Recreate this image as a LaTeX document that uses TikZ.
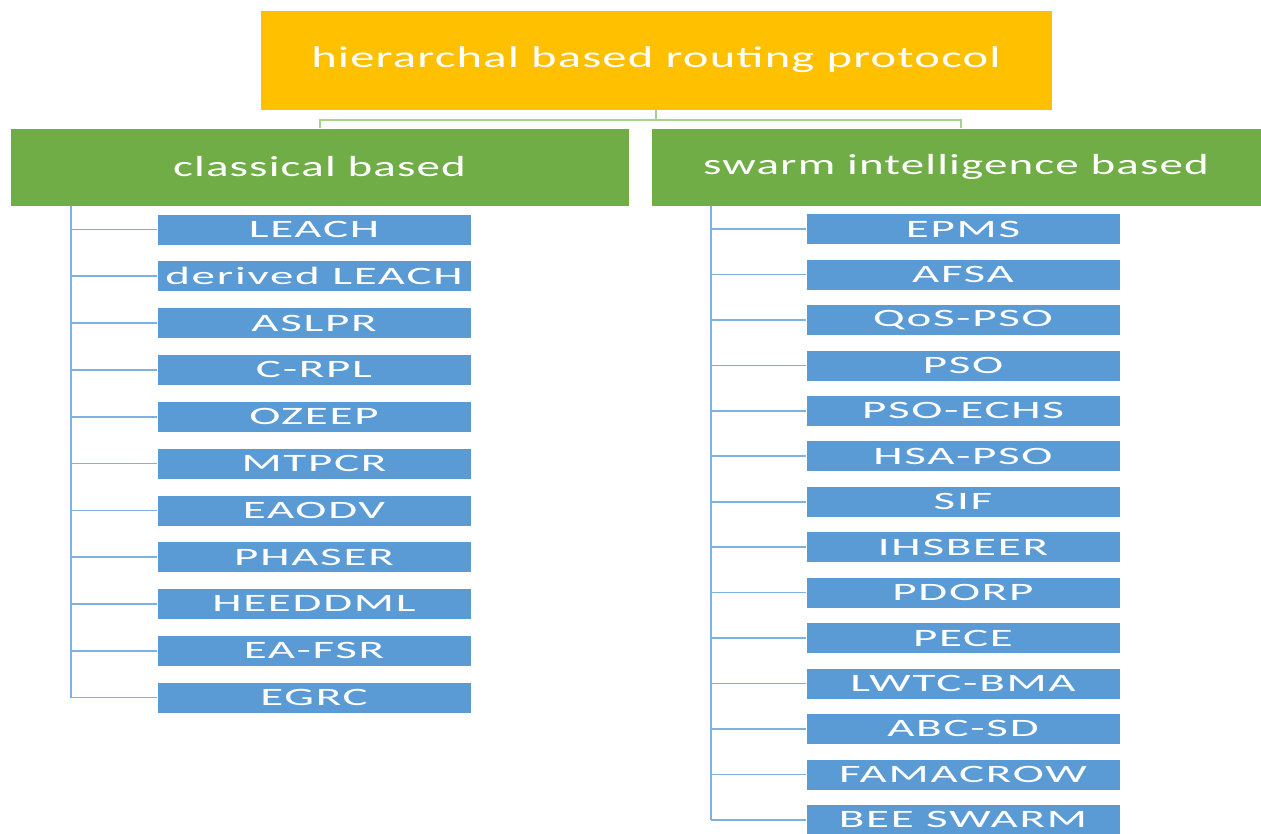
\documentclass[tikz,border=0pt]{standalone}
\usepackage{fontspec}
\setmainfont{Carlito}
\newfontfamily\headfont{Carlito}[FakeStretch=1.62,LetterSpace=4]
\newfontfamily\itemfont{Carlito}[FakeStretch=1.88,LetterSpace=7]
\definecolor{rootfill}{HTML}{FFC000}
\definecolor{catfill}{HTML}{70AD47}
\definecolor{itemfill}{HTML}{5B9BD5}
\definecolor{treeline}{HTML}{A9D18E}
\definecolor{itemline}{HTML}{7EB1E1}
\tikzset{
  rootbox/.style={fill=rootfill, draw=white, line width=0.6pt, minimum width=792pt, minimum height=100pt, inner sep=0pt, text=white, font=\headfont\fontsize{30}{36}\selectfont},
  catbox/.style={fill=catfill, draw=white, line width=0.6pt, minimum height=78pt, inner sep=0pt, text=white, font=\headfont\fontsize{29}{35}\selectfont},
  itembox/.style={fill=itemfill, draw=white, line width=0.6pt, minimum width=314pt, minimum height=31pt, inner sep=0pt, text=white, font=\itemfont\fontsize{25}{30}\selectfont},
  topline/.style={draw=treeline, line width=2pt},
  spine/.style={draw=itemline, line width=2.2pt},
  branch/.style={draw=itemline, line width=1.6pt},
}
\begin{document}
\begin{tikzpicture}[x=1pt,y=-1pt]
\useasboundingbox (0,0) rectangle (1261,834);
\node[rootbox] (root) at (656,60) {hierarchal based routing protocol};
\node[catbox, minimum width=619pt] (cls) at (319.5,167) {classical based};
\node[catbox, minimum width=610pt] (swm) at (956,167) {swarm intelligence based};
\coordinate (fork) at (656,120);
\draw[topline] (root.south) -- (fork);
\draw[topline] (fork) -| (cls.north);
\draw[topline] (fork) -| (961,128) coordinate (swmtop);
% classical branch
\coordinate (lsp) at (71,0);
\foreach \t [count=\i] in {LEACH,derived LEACH,ASLPR,C-RPL,OZEEP,MTPCR,EAODV,PHASER,HEEDDML,EA-FSR,EGRC} {
  \node[itembox] (l\i) at (314,{229.5+46.8*(\i-1)}) {\t};
  \draw[branch] (lsp |- l\i.west) -- (l\i.west);
}
\draw[spine] (lsp |- cls.south) -- (lsp |- l11.west);
% swarm intelligence branch
\coordinate (rsp) at (711,0);
\foreach \t [count=\i] in {EPMS,AFSA,QoS-PSO,PSO,PSO-ECHS,HSA-PSO,SIF,IHSBEER,PDORP,PECE,LWTC-BMA,ABC-SD,FAMACROW,BEE SWARM} {
  \node[itembox] (r\i) at (963,{229+45.45*(\i-1)}) {\t};
  \draw[branch] (rsp |- r\i.west) -- (r\i.west);
}
\draw[spine] (rsp |- swm.south) -- (rsp |- r14.west);
\end{tikzpicture}
\end{document}
